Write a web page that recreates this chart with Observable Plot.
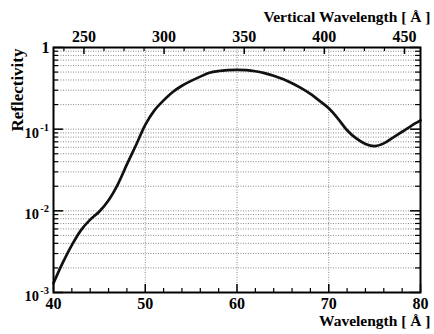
<!DOCTYPE html>
<html>
<head>
<meta charset="utf-8">
<script src="https://cdn.jsdelivr.net/npm/d3@7"></script>
<script src="https://cdn.jsdelivr.net/npm/@observablehq/plot@0.6"></script>
<style>
  body { margin: 0; background: #fff; }
</style>
</head>
<body>
<div id="chart"></div>
<script>
// Measured reflectivity versus wavelength [Å]
const wavelength = [40, 41, 42, 43, 44, 45, 46, 47, 48, 49, 50,
                    51, 52, 53, 54, 55, 56, 57, 58, 59, 60,
                    61, 62, 63, 64, 65, 66, 67, 68, 69, 70,
                    71, 72, 73, 74, 75, 76, 77, 78, 79, 80];
const reflectivity = [0.0013, 0.0023, 0.0038, 0.0058, 0.0078, 0.0098, 0.0135, 0.021, 0.037, 0.064, 0.113,
                      0.170, 0.225, 0.285, 0.340, 0.390, 0.440, 0.490, 0.515, 0.528, 0.533,
                      0.528, 0.512, 0.485, 0.450, 0.410, 0.365, 0.318, 0.270, 0.222, 0.180,
                      0.135, 0.097, 0.077, 0.066, 0.062, 0.067, 0.079, 0.093, 0.110, 0.128];

// Bottom axis (wavelength)
const xMajorTicks = [40, 50, 60, 70, 80];
const xMinorTicks = [42, 44, 46, 48, 52, 54, 56, 58, 62, 64, 66, 68, 72, 74, 76, 78];
const xGridLines = [50, 60, 70];

// Top axis (vertical wavelength), spanning the same frame
const topDomain = [231, 460];
const topMajorTicks = [250, 300, 350, 400, 450];
const topMinorTicks = [237.5, 262.5, 275, 287.5, 312.5, 325, 337.5, 362.5, 375, 387.5, 412.5, 425, 437.5];

// Log axis (reflectivity)
const yMajorTicks = [0.001, 0.01, 0.1, 1];
const yMinorTicks = [0.002, 0.003, 0.004, 0.005, 0.006, 0.007, 0.008, 0.009,
                     0.02, 0.03, 0.04, 0.05, 0.06, 0.07, 0.08, 0.09,
                     0.2, 0.3, 0.4, 0.5, 0.6, 0.7, 0.8, 0.9];
const yDecadeTicks = [0.001, 0.01, 0.1];
const yExponents = ["-3", "-2", "-1"];

const data = wavelength.map((w, i) => ({w, r: reflectivity[i]}));
const xDomain = [40, 80];
const topToX = v => xDomain[0] + (v - topDomain[0]) / (topDomain[1] - topDomain[0]) * (xDomain[1] - xDomain[0]);

const W = 434, H = 334;
const mL = 53, mR = 14, mT = 47, mB = 42;
const plotW = W - mL - mR, plotH = H - mT - mB;

const font = "'Liberation Serif', 'Times New Roman', serif";
const gridStyle = {stroke: "#8a8a8a", strokeWidth: 1, strokeDasharray: "1,1.5"};

const chart = Plot.plot({
  width: W,
  height: H,
  marginLeft: mL,
  marginRight: mR,
  marginTop: mT,
  marginBottom: mB,
  style: {fontFamily: font, fontWeight: "bold", background: "#fff", color: "#000"},
  x: {domain: xDomain, axis: null},
  y: {type: "log", domain: [0.001, 1], axis: null},
  marks: [
    // dotted grid
    Plot.ruleY(yMinorTicks.concat([0.01, 0.1]), {y: d => d, ...gridStyle}),
    Plot.ruleX(xGridLines, {x: d => d, ...gridStyle}),

    // inward ticks, bottom
    Plot.tickX(xMajorTicks, {x: d => d, insetTop: plotH - 8, stroke: "#000", strokeWidth: 1.5}),
    Plot.tickX(xMinorTicks, {x: d => d, insetTop: plotH - 4, stroke: "#000", strokeWidth: 1.2}),
    // inward ticks, top (vertical wavelength)
    Plot.tickX(topMajorTicks, {x: d => topToX(d), insetBottom: plotH - 7, stroke: "#000", strokeWidth: 1.5}),
    Plot.tickX(topMinorTicks, {x: d => topToX(d), insetBottom: plotH - 4, stroke: "#000", strokeWidth: 1.2}),
    // inward ticks, left and right
    Plot.tickY(yMajorTicks, {y: d => d, insetRight: plotW - 10, stroke: "#000", strokeWidth: 1.5}),
    Plot.tickY(yMinorTicks, {y: d => d, insetRight: plotW - 5, stroke: "#000", strokeWidth: 1.2}),
    Plot.tickY(yMajorTicks, {y: d => d, insetLeft: plotW - 10, stroke: "#000", strokeWidth: 1.5}),
    Plot.tickY(yMinorTicks, {y: d => d, insetLeft: plotW - 5, stroke: "#000", strokeWidth: 1.2}),

    // reflectivity curve
    Plot.line(data, {x: "w", y: "r", stroke: "#111", strokeWidth: 2.7, curve: "catmull-rom"}),

    Plot.frame({stroke: "#000", strokeWidth: 2}),

    // bottom tick labels
    Plot.text(xMajorTicks, {x: d => d, text: d => String(d), frameAnchor: "bottom", lineAnchor: "bottom",
      dy: 16, fontSize: 16, fontWeight: "bold", fill: "#000"}),
    // top tick labels
    Plot.text(topMajorTicks, {x: d => topToX(d), text: d => String(d), frameAnchor: "top", lineAnchor: "bottom",
      dy: -6, fontSize: 16, fontWeight: "bold", fill: "#000"}),
    // y tick labels: 1, and 10 with exponent
    Plot.text([1], {y: d => d, text: () => "1", frameAnchor: "left", textAnchor: "end", lineAnchor: "middle",
      dx: -4, fontSize: 16, fontWeight: "bold", fill: "#000"}),
    Plot.text(yDecadeTicks, {y: d => d, text: () => "10", frameAnchor: "left", textAnchor: "end", lineAnchor: "middle",
      dx: -14.5, dy: 4, fontSize: 14.5, fontWeight: "bold", fill: "#000"}),
    Plot.text(yDecadeTicks, {y: d => d, text: (d, i) => yExponents[i], frameAnchor: "left", textAnchor: "end",
      lineAnchor: "middle", dx: -4.5, dy: -2, fontSize: 10.5, fontWeight: "bold", fill: "#000"}),

    // axis titles
    Plot.text(["Wavelength [ Å ]"], {frameAnchor: "bottom-right", textAnchor: "end", lineAnchor: "bottom",
      dx: 10, dy: 33, fontSize: 15.5, fontWeight: "bold", fill: "#000"}),
    Plot.text(["Vertical Wavelength [ Å ]"], {frameAnchor: "top-right", textAnchor: "end", lineAnchor: "bottom",
      dx: 10, dy: -26, fontSize: 15.5, fontWeight: "bold", fill: "#000"}),
    Plot.text(["Reflectivity"], {frameAnchor: "top-left", textAnchor: "end", lineAnchor: "bottom", rotate: -90,
      dx: -31, dy: 1, fontSize: 17, fontWeight: "bold", fill: "#000"})
  ]
});

document.getElementById("chart").append(chart);
</script>
</body>
</html>
